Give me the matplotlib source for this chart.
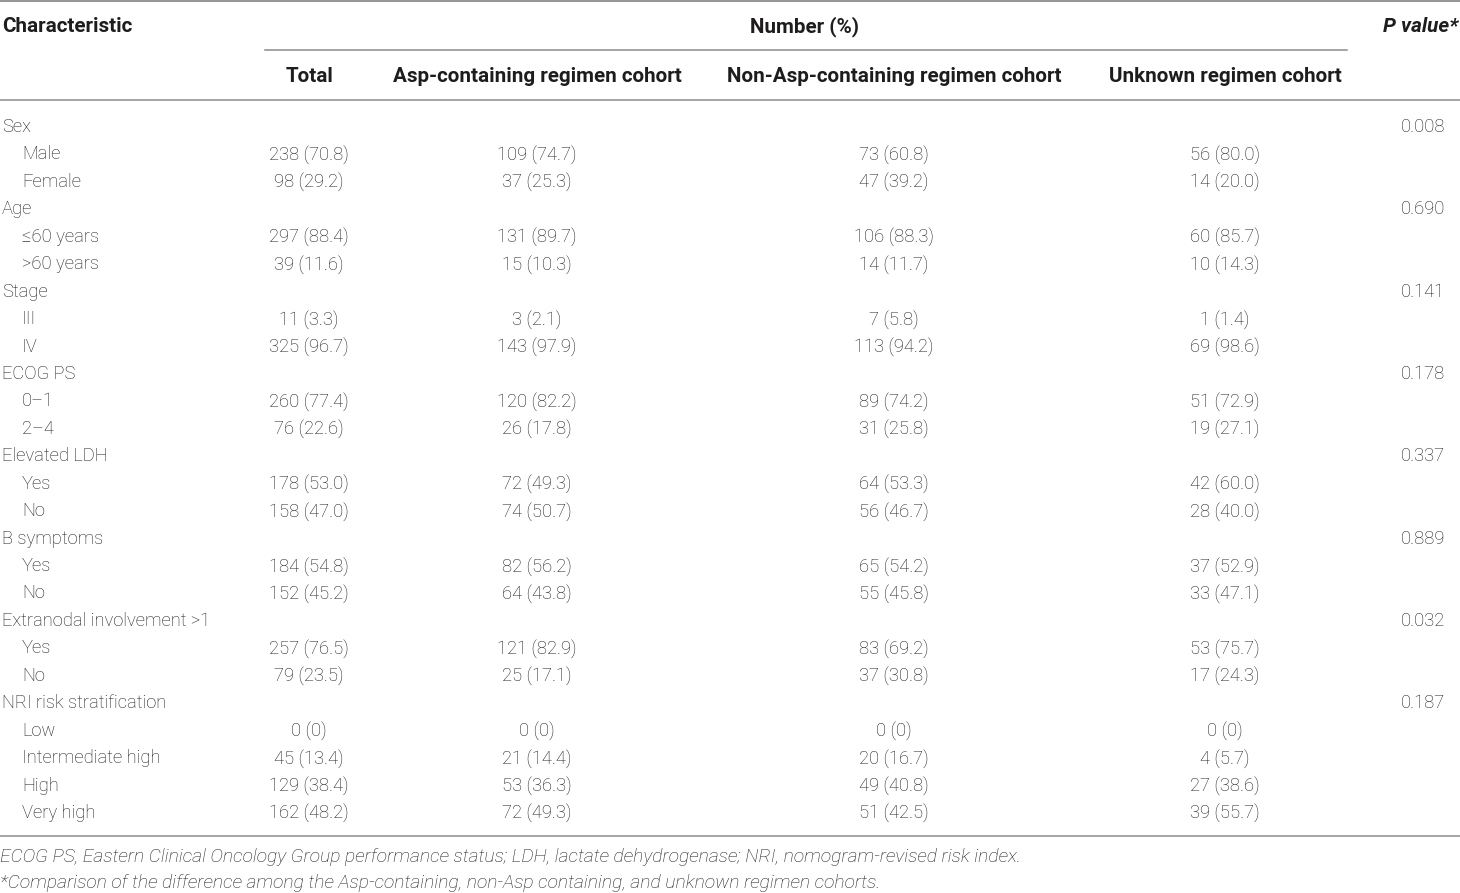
import matplotlib
matplotlib.use("Agg")
import matplotlib.pyplot as plt

labels = ["Sex", "Male", "Female", "Age", "≤60 years", ">60 years", "Stage", "III", "IV",
          "ECOG PS", "0–1", "2–4", "Elevated LDH", "Yes", "No", "B symptoms", "Yes", "No",
          "Extranodal involvement >1", "Yes", "No", "NRI risk stratification", "Low",
          "Intermediate high", "High", "Very high"]
is_group = [1, 0, 0, 1, 0, 0, 1, 0, 0, 1, 0, 0, 1, 0, 0, 1, 0, 0, 1, 0, 0, 1, 0, 0, 0, 0]
total = ["", "238 (70.8)", "98 (29.2)", "", "297 (88.4)", "39 (11.6)", "", "11 (3.3)", "325 (96.7)",
         "", "260 (77.4)", "76 (22.6)", "", "178 (53.0)", "158 (47.0)", "", "184 (54.8)", "152 (45.2)",
         "", "257 (76.5)", "79 (23.5)", "", "0 (0)", "45 (13.4)", "129 (38.4)", "162 (48.2)"]
asp = ["", "109 (74.7)", "37 (25.3)", "", "131 (89.7)", "15 (10.3)", "", "3 (2.1)", "143 (97.9)",
       "", "120 (82.2)", "26 (17.8)", "", "72 (49.3)", "74 (50.7)", "", "82 (56.2)", "64 (43.8)",
       "", "121 (82.9)", "25 (17.1)", "", "0 (0)", "21 (14.4)", "53 (36.3)", "72 (49.3)"]
non_asp = ["", "73 (60.8)", "47 (39.2)", "", "106 (88.3)", "14 (11.7)", "", "7 (5.8)", "113 (94.2)",
           "", "89 (74.2)", "31 (25.8)", "", "64 (53.3)", "56 (46.7)", "", "65 (54.2)", "55 (45.8)",
           "", "83 (69.2)", "37 (30.8)", "", "0 (0)", "20 (16.7)", "49 (40.8)", "51 (42.5)"]
unknown = ["", "56 (80.0)", "14 (20.0)", "", "60 (85.7)", "10 (14.3)", "", "1 (1.4)", "69 (98.6)",
           "", "51 (72.9)", "19 (27.1)", "", "42 (60.0)", "28 (40.0)", "", "37 (52.9)", "33 (47.1)",
           "", "53 (75.7)", "17 (24.3)", "", "0 (0)", "4 (5.7)", "27 (38.6)", "39 (55.7)"]
p_values = ["0.008", "", "", "0.690", "", "", "0.141", "", "", "0.178", "", "", "0.337", "", "",
            "0.889", "", "", "0.032", "", "", "0.187", "", "", "", ""]
col_headers = ["Total", "Asp-containing regimen cohort", "Non-Asp-containing regimen cohort",
               "Unknown regimen cohort"]
footnotes = ["ECOG PS, Eastern Clinical Oncology Group performance status; LDH, lactate dehydrogenase; NRI, nomogram-revised risk index.",
             "*Comparison of the difference among the Asp-containing, non-Asp containing, and unknown regimen cohorts."]

FONT = ["Roboto", "DejaVu Sans"]
FS = 13.2
FS_HEAD = 14.9
FS_FOOT = 13.9
TXT = "#1e1c1d"
LINE = "#8c8c8c"

W, H = 1460, 893
fig = plt.figure(figsize=(W / 100, H / 100), dpi=100)
ax = fig.add_axes([0, 0, 1, 1])
ax.set_xlim(0, W)
ax.set_ylim(H, 0)
ax.axis("off")

def t(x, y, s, ha="left", weight="light", style="normal", fs=FS):
    ax.text(x, y, s, ha=ha, va="center", fontsize=fs, family=FONT, color=TXT,
            fontweight=weight, fontstyle=style)

# rules
ax.plot([0, W], [1, 1], color=LINE, lw=1.3)
ax.plot([265, 1347], [50, 50], color=LINE, lw=1.1)
ax.plot([0, W], [100, 100], color=LINE, lw=1.1)
ax.plot([0, W], [836, 836], color=LINE, lw=1.1)

# headers
t(2, 27, "Characteristic", weight="bold", fs=FS_HEAD)
t(805, 27, "Number (%)", ha="center", weight="bold", fs=FS_HEAD)
t(1458, 27, "P value*", ha="right", weight="bold", style="italic", fs=FS_HEAD)
col_x = [309, 537, 894, 1225]
for x, h in zip(col_x, col_headers):
    t(x, 77, h, ha="center", weight="bold", fs=FS_HEAD)

y0, dy = 126, (812 - 126) / 25
for i, lab in enumerate(labels):
    y = y0 + i * dy + 1
    t(2 if is_group[i] else 22, y, lab)
    for x, col in zip(col_x, [total, asp, non_asp, unknown]):
        if col[i]:
            t(x, y, col[i], ha="center")
    if p_values[i]:
        t(1445, y, p_values[i], ha="right")

t(0, 857, footnotes[0], style="italic", fs=FS_FOOT)
t(0, 883, footnotes[1], style="italic", fs=FS_FOOT)

fig.savefig("out.png", dpi=100, facecolor="white")
